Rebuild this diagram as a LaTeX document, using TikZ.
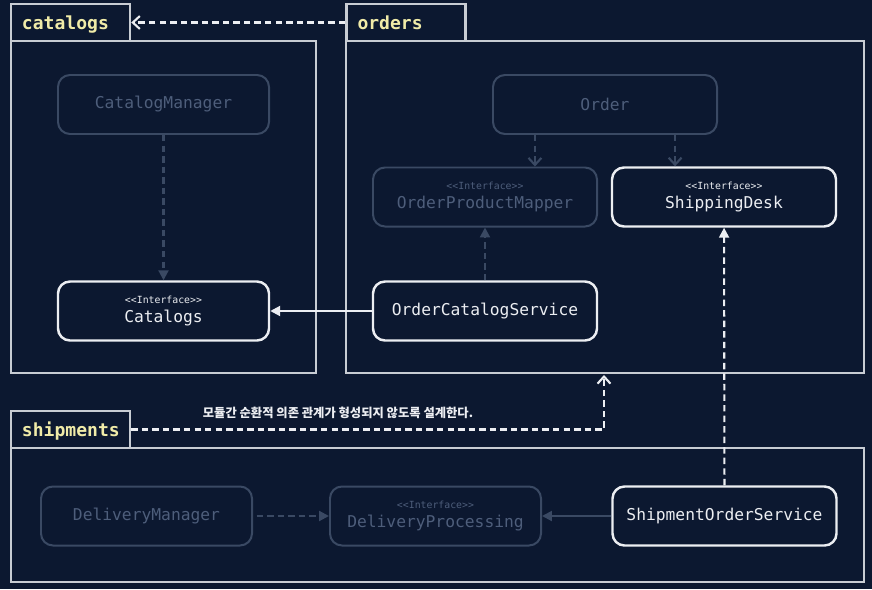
\documentclass[tikz,border=0pt]{standalone}
\usepackage{fontspec}
\setmonofont{DejaVu Sans Mono}
\newfontfamily\krfont{Noto Sans CJK KR}
\usetikzlibrary{arrows.meta,calc}

\definecolor{bgnavy}{HTML}{0C1830}
\definecolor{framegray}{HTML}{C8CCD3}
\definecolor{lit}{HTML}{ECEEF2}
\definecolor{dimline}{HTML}{3A4963}
\definecolor{dimtext}{HTML}{4E5E7B}
\definecolor{tabtext}{HTML}{F0EBA8}

\newcommand{\iface}[1]{{\fontsize{8.4}{8.4}\selectfont <<Interface>>}\\#1}
\newcommand{\tabname}[1]{\makebox[2.91cm][l]{#1}}

\begin{document}
\begin{tikzpicture}[x=0.03cm,y=-0.03cm,
  cls/.style={draw=lit, line width=2.1pt, rounded corners=0.36cm, text=lit,
    minimum width=6.33cm, minimum height=1.77cm, inner sep=0pt, align=center,
    font=\ttfamily\fontsize{13.9}{16}\selectfont},
  faded/.style={cls, draw=dimline, line width=1.7pt, text=dimtext},
  wide/.style={minimum width=6.72cm},
  pkg/.style={draw=framegray, line width=2.1pt},
  tab/.style={pkg, inner xsep=0.33cm, inner ysep=0pt,
    minimum height=1.11cm, text height=14pt, text depth=2pt,
    text=tabtext, font=\ttfamily\bfseries\fontsize{15.4}{16}\selectfont},
  dep/.style={dash pattern=on 5.5pt off 3.5pt},
  tri/.style={-{Triangle[length=8.5pt,width=8.5pt]}},
  barb/.style={-{Straight Barb[length=6pt,width=11pt,line width=1.8pt]}}]
\fill [bgnavy] (0,0) rectangle (872,589);

% packages
\draw [pkg] (11,41) rectangle (316,373);
\draw [pkg] (346,41) rectangle (864,373);
\draw [pkg] (11,448) rectangle (864,582);
\node [tab] (cattab) at (70.5,22.5) {\tabname{catalogs}};
\node [tab] (ordtab) at (406,22.5) {\tabname{orders}};
\node [tab] (shiptab) at (70.5,429.5) {\tabname{shipments}};
\coordinate (ordfoot) at (604,375);

% classes
\node [faded] (catman) at (163.5,104.5) {CatalogManager};
\node [cls] (catif) at (163.5,311) {\iface{Catalogs}};
\node [faded, wide] (order) at (605,104.5) {Order};
\node [faded, wide] (opm) at (485,197) {\iface{OrderProductMapper}};
\node [cls, wide] (desk) at (724,197) {\iface{ShippingDesk}};
\node [cls, wide] (ocs) at (485,311) {OrderCatalogService};
\node [faded] (delman) at (146.5,516) {DeliveryManager};
\node [faded] (delproc) at (435.5,516) {\iface{DeliveryProcessing}};
\node [cls, wide] (sos) at (724.5,516) {ShipmentOrderService};

\coordinate (o1) at ($(order.south west)!0.19!(order.south east)$);
\coordinate (o2) at ($(order.south west)!0.81!(order.south east)$);

% package dependencies
\draw [dep, barb, lit, line width=1.8pt] (ordtab.west) -- (cattab.east);
\draw [dep, barb, lit, line width=1.8pt] (shiptab.east) -| (ordfoot);
\node [text=lit, font=\krfont\bfseries\fontsize{10.5}{11}\selectfont] (note) at (338,413)
  {모듈간 순환적 의존 관계가 형성되지 않도록 설계한다.};

% class dependencies
\draw [dep, tri, dimline, line width=1.8pt] (catman) -- (catif);
\draw [dep, barb, dimline, line width=1.8pt] (o1) -- (o1 |- opm.north);
\draw [dep, barb, dimline, line width=1.8pt] (o2) -- (o2 |- desk.north);
\draw [dep, tri, dimline, line width=1.8pt] (ocs) -- (opm);
\draw [tri, lit, line width=1.8pt] (ocs) -- (catif);
\draw [dep, tri, lit, line width=1.8pt] (sos) -- (desk);
\draw [dep, tri, dimline, line width=1.8pt, shorten <=3pt] (delman) -- (delproc);
\draw [tri, dimline, line width=1.8pt] (sos) -- (delproc);
\end{tikzpicture}
\end{document}
